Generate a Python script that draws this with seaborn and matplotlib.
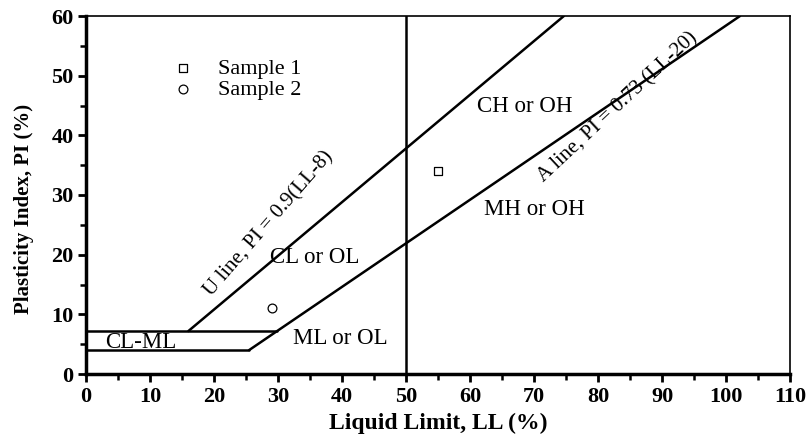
import numpy as np
import pandas as pd
import matplotlib
matplotlib.use("Agg")
import matplotlib.pyplot as plt
import seaborn as sns
from matplotlib.ticker import MultipleLocator

# ---- data ----
u_line_ll = [16.0, 74.67]
u_line_pi = [7.2, 60.0]
a_line_ll = [25.48, 102.19]
a_line_pi = [4.0, 60.0]
h7_ll = [0.0, 29.86]
h7_pi = [7.2, 7.2]
h4_ll = [0.0, 25.48]
h4_pi = [4.0, 4.0]
v50_ll = [50.0, 50.0]
v50_pi = [0.0, 60.0]

sample_names = ["Sample 1", "Sample 2"]
sample_ll = [55.0, 29.0]
sample_pi = [34.0, 11.0]
sample_markers = ["s", "o"]

x_ticks = [0, 10, 20, 30, 40, 50, 60, 70, 80, 90, 100, 110]
y_ticks = [0, 10, 20, 30, 40, 50, 60]

sns.set_theme(style="ticks", rc={
    "text.color": "black", "axes.labelcolor": "black", "axes.edgecolor": "black",
    "xtick.color": "black", "ytick.color": "black"})
plt.rcParams["font.family"] = ["Liberation Serif", "DejaVu Serif"]

fig = plt.figure(figsize=(8.12, 4.37), dpi=100)
ax = fig.add_axes([86/812, 1-374/437, 704/812, 358/437])

lines = [(u_line_ll, u_line_pi), (a_line_ll, a_line_pi), (h7_ll, h7_pi),
         (h4_ll, h4_pi), (v50_ll, v50_pi)]
for lx, ly in lines:
    df = pd.DataFrame({"LL": lx, "PI": ly})
    sns.lineplot(data=df, x="LL", y="PI", ax=ax, color="black", lw=1.8,
                 sort=False, estimator=None)

for name, lx, ly, mk in zip(sample_names, sample_ll, sample_pi, sample_markers):
    sdf = pd.DataFrame({"LL": [lx], "PI": [ly]})
    sns.scatterplot(data=sdf, x="LL", y="PI", ax=ax, marker=mk, s=40,
                    facecolor="white", edgecolor="black", linewidth=0.9,
                    label=name, zorder=5)

ax.set_xlim(0, 110)
ax.set_ylim(0, 60)
ax.set_xticks(x_ticks)
ax.set_yticks(y_ticks)
ax.xaxis.set_minor_locator(MultipleLocator(5))
ax.yaxis.set_minor_locator(MultipleLocator(5))
ax.tick_params(which="major", direction="out", length=6, width=2, labelsize=16, pad=3)
ax.tick_params(which="minor", direction="out", length=4, width=1.8)
for lab in ax.get_xticklabels() + ax.get_yticklabels():
    lab.set_fontweight("bold")

for s in ["left", "bottom"]:
    ax.spines[s].set_linewidth(2.5)
for s in ["top", "right"]:
    ax.spines[s].set_linewidth(1.2)
    ax.spines[s].set_visible(True)

ax.set_xlabel("Liquid Limit, LL (%)", fontsize=17, fontweight="bold")
ax.xaxis.set_label_coords(0.5, -0.108)
ax.set_ylabel("Plasticity Index, PI (%)", fontsize=15, fontweight="bold")
ax.yaxis.set_label_coords(-0.074, 0.46)

leg = ax.legend(loc="upper left", bbox_to_anchor=(0.109, 0.907), frameon=False,
                fontsize=16, handletextpad=1.1, labelspacing=0.02,
                borderaxespad=0, handlelength=1.0)

fs = 16.5
ax.text(68.5, 44.8, "CH or OH", fontsize=fs, ha="center", va="center")
ax.text(70.0, 27.6, "MH or OH", fontsize=fs, ha="center", va="center")
ax.text(35.8, 19.6, "CL or OL", fontsize=fs, ha="center", va="center")
ax.text(39.7, 6.0, "ML or OL", fontsize=fs, ha="center", va="center")
ax.text(8.6, 5.2, "CL-ML", fontsize=fs, ha="center", va="center")
ax.text(28.6, 25.1, "U line, PI = 0.9(LL-8)", fontsize=15, ha="center", va="center",
        rotation=49)
ax.text(83.1, 44.7, "A line, PI = 0.73 (LL-20)", fontsize=15, ha="center", va="center",
        rotation=43)

fig.savefig("out.png", dpi=100)
